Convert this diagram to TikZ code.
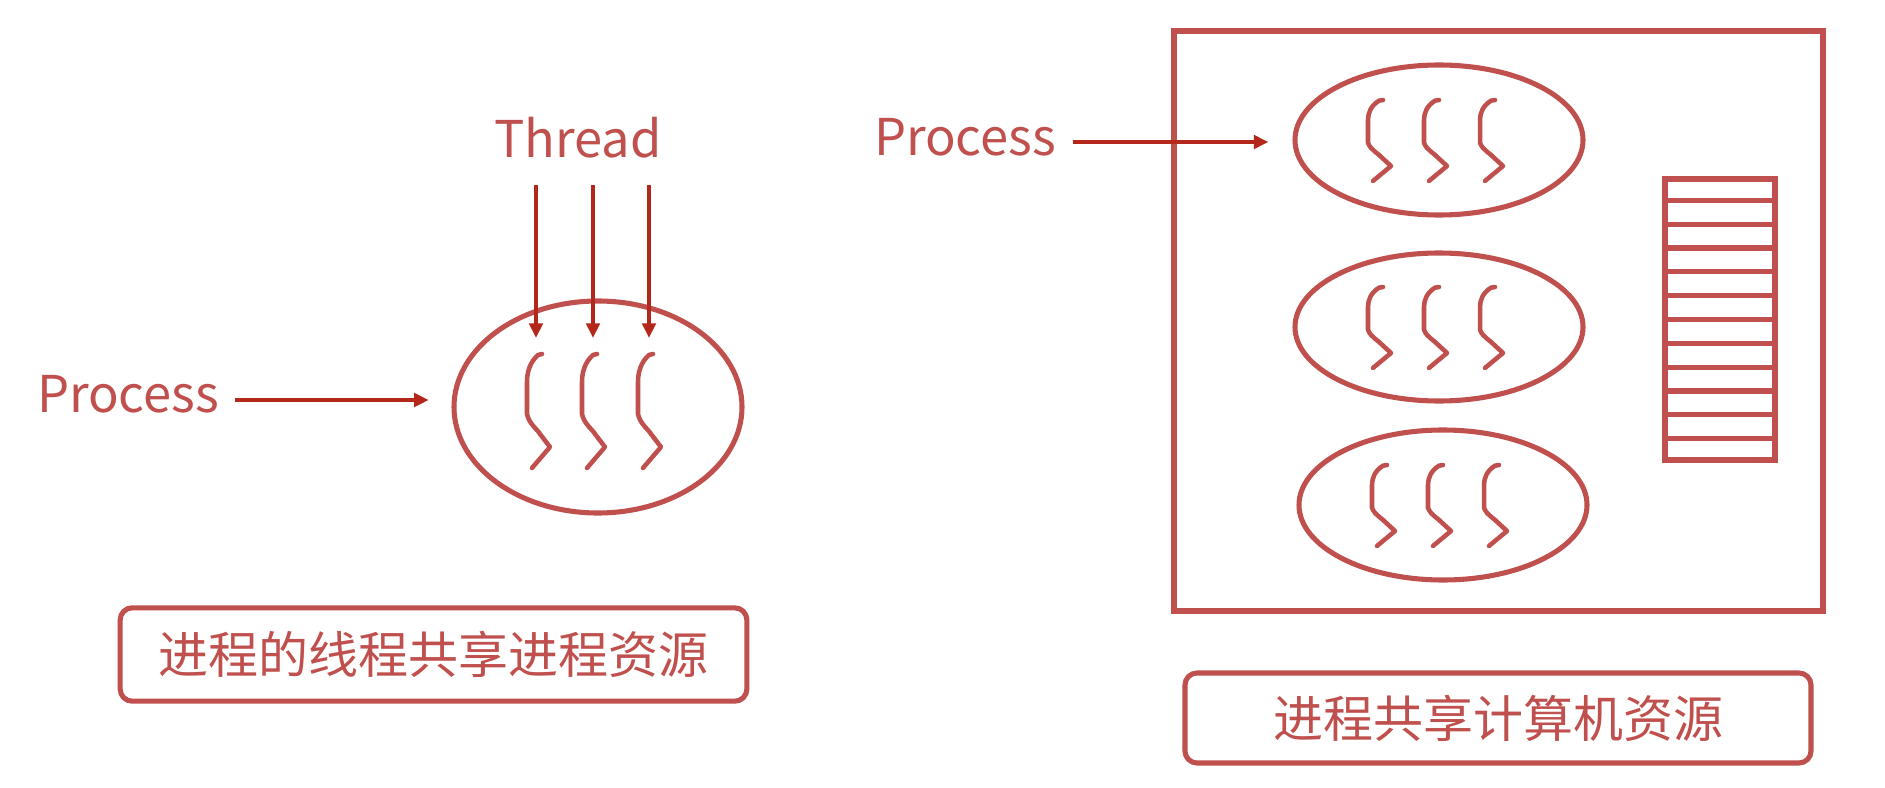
\documentclass[tikz,border=0pt]{standalone}
\usepackage{fontspec}
\setmainfont{Noto Sans CJK SC}
\usetikzlibrary{shapes.geometric,arrows.meta,calc}
\definecolor{procred}{RGB}{192,80,77}
\definecolor{feedred}{RGB}{180,40,28}
\tikzset{
  outline/.style={draw=procred,line width=3.8pt},
  feed/.style={draw=feedred,line width=3pt,-{Triangle[length=11pt,width=10pt]}},
  tag/.style={text=procred,inner sep=0pt,font=\fontsize{38}{46}\selectfont},
  note/.style={outline,rounded corners=9pt,text=procred,font=\fontsize{37.5}{45}\selectfont},
  proc/.style={outline,ellipse,inner sep=0pt,minimum width=216pt},
  thread/.pic={\draw[outline,line width=3.4pt,line cap=round,line join=round] (0,0) -- (-4,-1) .. controls (-12,-8) and (-15,-18) .. (-15,-28) -- (-15,-60) .. controls (-13,-70) and (-4,-76) .. (-2,-80) -- (8,-93) -- (-10,-114);}
}
\begin{document}
\begin{tikzpicture}[x=0.75pt,y=0.75pt,yscale=-1,xscale=1]
		\fill[white] (0,0) rectangle (1885,788);
		\useasboundingbox (0,0) rectangle (1885,788);
		\node[tag] (tlabel) at (578,138) {Thread};
		\node[tag] (plabel) at (128,394) {Process};
		\node[proc,minimum height=159pt] (lp) at (598,407) {};
		\foreach \dx in {-56,-1,55} \pic at ($(lp)+(\dx,-53)$) {thread};
		\foreach \i/\x in {1/536,2/593,3/649} {
			\coordinate (ta\i) at (\x,185);
			\coordinate (tb\i) at (\x,338);
			\draw[feed] (ta\i) -- (tb\i);
		}
		\coordinate (pa) at (235,400);
		\draw[feed,shorten >=17pt] (pa) -- (pa -| lp.west);
		\node[note,minimum width=470pt,minimum height=70pt] (lnote) at (433.5,654.5) {进程的线程共享进程资源};
		\node[outline,minimum width=486.75pt,minimum height=435pt] (host) at (1498.5,321) {};
		\node[proc,minimum height=112.5pt] (rp1) at (1439,140) {};
		\node[proc,minimum height=111pt] (rp2) at (1439,327) {};
		\node[proc,minimum height=112.5pt] (rp3) at (1443,505) {};
		\foreach \n in {rp1,rp2,rp3}
			\foreach \dx in {-56,0,56} \pic[yscale=0.71] at ($(\n)+(\dx,-40)$) {thread};
		\node[tag] (rlabel) at (965,137) {Process};
		\coordinate (rpa) at (1073,142);
		\draw[feed,shorten >=18pt] (rpa) -- (rpa -| rp1.west);
		\node[outline,minimum width=82.5pt,minimum height=210.75pt] (mem) at (1720,319.5) {};
		\foreach \k in {1,...,11}
			\draw[outline] ($(mem.north west)!\k/12!(mem.south west)$) -- ($(mem.north east)!\k/12!(mem.south east)$);
		\node[note,minimum width=469.5pt,minimum height=67.5pt] (rnote) at (1498,718) {进程共享计算机资源};
		\end{tikzpicture}
\end{document}
